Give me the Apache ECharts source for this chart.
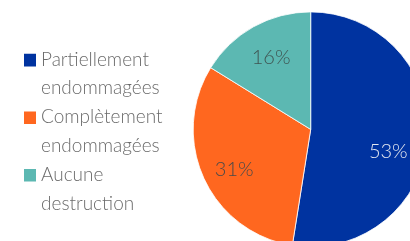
<!DOCTYPE html>
<html>
<head>
<meta charset="utf-8">
<script src="https://cdn.jsdelivr.net/npm/echarts@6/dist/echarts.min.js"></script>
<style>
html,body{margin:0;padding:0;background:#fff;}
#chart{width:410px;height:241px;}
</style>
</head>
<body>
<div id="chart"></div>
<script>
var categories = ['Partiellement endommagées', 'Complètement endommagées', 'Aucune destruction'];
var legendLines = [['Partiellement', 'endommagées'], ['Complètement', 'endommagées'], ['Aucune', 'destruction']];
var values = [52.5, 31.3, 16.2];
var colors = ['#0033A0', '#FF671F', '#5CB8B2'];
var labelColors = ['#E4E8F0', '#4A4A4A', '#3F5552'];

var FONT = 'Lato';
var chart = echarts.init(document.getElementById('chart'), null, {renderer: 'canvas'});

// label nudges (styling only, not data)
var LABEL_NUDGE = [[-7.4, 15.5], [1, 5], [2, 3]];

var pieData = categories.map(function (c, i) {
  return {name: c, value: values[i], itemStyle: {color: colors[i]}};
});
var labelData = categories.map(function (c, i) {
  return {
    name: c,
    value: values[i],
    itemStyle: {color: 'rgba(0,0,0,0)'},
    label: {color: labelColors[i], offset: LABEL_NUDGE[i]}
  };
});

var legendFmt = {};
categories.forEach(function (c, i) { legendFmt[c] = legendLines[i].join('\n'); });

var CX = 310.7, CY = 129.4, R = 117.5;

chart.setOption({
  animation: false,
  legend: {
    orient: 'vertical',
    left: 24,
    top: 45,
    padding: 0,
    itemGap: 0,
    itemWidth: 12,
    itemHeight: 57.6,
    icon: 'path://M0,8.8H12V21.4H0Z M0,0L0.001,0 M0,57.6L0.001,57.6',
    itemStyle: {borderWidth: 0},
    formatter: function (n) { return legendFmt[n]; },
    textStyle: {fontFamily: FONT, fontWeight: 300, fontSize: 19, color: '#6B6B6B', lineHeight: 28.8},
    data: categories.map(function (c, i) { return {name: c, itemStyle: {color: colors[i]}}; })
  },
  series: [
    {
      type: 'pie',
      center: [CX, CY],
      radius: [0, R],
      startAngle: 90,
      clockwise: true,
      silent: true,
      itemStyle: {borderColor: '#fff', borderWidth: 0.8},
      label: {show: false},
      labelLine: {show: false},
      data: pieData
    },
    {
      type: 'pie',
      center: [CX, CY],
      radius: [R * 0.4, R],
      startAngle: 90,
      clockwise: true,
      silent: true,
      legendHoverLink: false,
      label: {
        show: true,
        position: 'inside',
        fontFamily: FONT,
        fontWeight: 300,
        fontSize: 20,
        formatter: function (p) { return Math.round(p.percent) + '%'; }
      },
      labelLine: {show: false},
      data: labelData
    }
  ]
});
</script>
</body>
</html>
